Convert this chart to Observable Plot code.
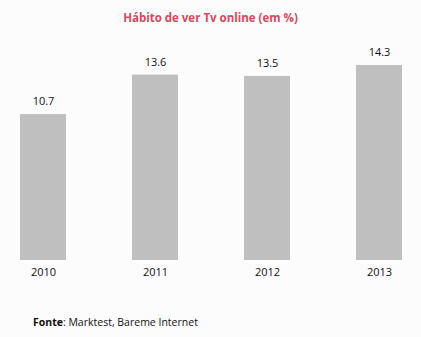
<!DOCTYPE html>
<html>
<head>
<meta charset="utf-8">
<script src="https://cdn.jsdelivr.net/npm/d3@7"></script>
<script src="https://cdn.jsdelivr.net/npm/@observablehq/plot@0.6"></script>
<style>
  html, body { margin: 0; padding: 0; background: #fcfcfc; }
  #wrap { position: relative; width: 421px; height: 337px; overflow: hidden; font-family: "Open Sans", sans-serif; }
  #title { position: absolute; top: 9px; left: 0; width: 421px; text-align: center; font-weight: bold; font-size: 11.5px; color: #d9475b; line-height: 18px; }
  #chart { position: absolute; top: 30px; left: 0; }
  #caption { position: absolute; top: 313px; left: 33px; font-size: 10.5px; color: #111; line-height: 18px; }
</style>
</head>
<body>
<div id="wrap">
  <div id="title">Hábito de ver Tv online (em %)</div>
  <div id="chart"></div>
  <div id="caption"><b>Fonte</b>: Marktest, Bareme Internet</div>
</div>
<script>
const years = ["2010", "2011", "2012", "2013"];
const values = [10.7, 13.6, 13.5, 14.3];
const labels = ["10.7", "13.6", "13.5", "14.3"];

const data = years.map((y, i) => ({year: y, value: values[i], label: labels[i]}));

const chart = Plot.plot({
  width: 421,
  height: 260,
  marginLeft: 19,
  marginRight: 18,
  marginTop: 35,
  marginBottom: 30,
  style: {fontFamily: "Open Sans, sans-serif", fontSize: "11px", background: "transparent", color: "#111"},
  x: {domain: years, paddingInner: 0.59, paddingOuter: 0, label: null},
  y: {domain: [0, 14.3], axis: null},
  marks: [
    Plot.barY(data, {x: "year", y: "value", fill: "#bfbfbf"}),
    Plot.text(data, {x: "year", y: "value", text: "label", dy: -13, lineAnchor: "middle", fill: "#111", fontSize: 11}),
    Plot.axisX({tickSize: 0, tickPadding: 8, fontSize: 11, fill: "#111"})
  ]
});
document.getElementById("chart").appendChild(chart);
</script>
</body>
</html>
